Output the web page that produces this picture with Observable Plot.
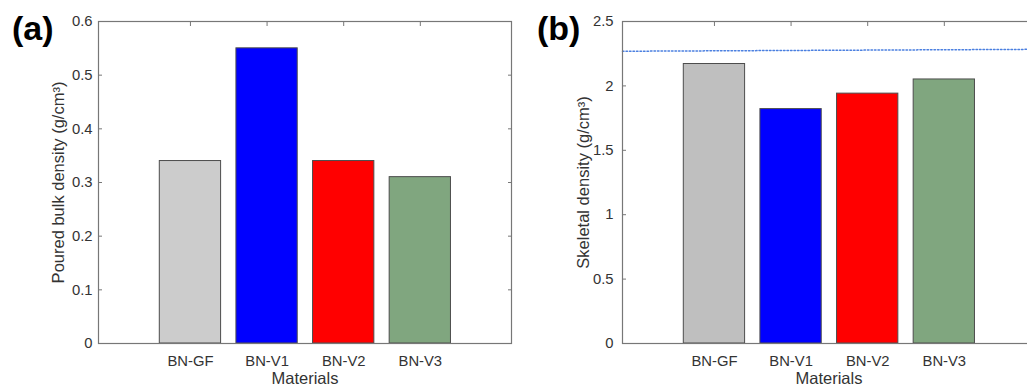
<!DOCTYPE html>
<html><head><meta charset="utf-8">
<script src="https://cdn.jsdelivr.net/npm/d3@7"></script>
<script src="https://cdn.jsdelivr.net/npm/@observablehq/plot@0.6"></script>
<style>
html,body{margin:0;padding:0;overflow:hidden;background:#fff;width:1027px;height:387px;}
#wrap{position:relative;width:1027px;height:387px;overflow:hidden;}
.panel{position:absolute;top:0;width:520px;height:387px;}
.panel svg{max-width:none !important;}
.tag{position:absolute;font:bold 34px "Liberation Sans",Arial,sans-serif;color:#000;line-height:1;white-space:nowrap;}
</style></head><body>
<div id="wrap">
<div id="pa" class="panel" style="left:0"></div>
<div id="pb" class="panel" style="left:520px"></div>
<div class="tag" style="left:12px;top:11px">(a)</div>
<div class="tag" style="left:537px;top:11px">(b)</div>
</div>
<script>
const categories = ["BN-GF", "BN-V1", "BN-V2", "BN-V3"];
const pouredBulk = [0.34, 0.55, 0.34, 0.31];
const skeletal = [2.17, 1.82, 1.94, 2.05];
const colorsA = ["#cccccc", "#0000ff", "#ff0000", "#80a67f"];
const colorsB = ["#bfbfbf", "#0000ff", "#ff0000", "#80a67f"];
const yTicksA = [0, 0.1, 0.2, 0.3, 0.4, 0.5, 0.6];
const yTickLabelsA = ["0", "0.1", "0.2", "0.3", "0.4", "0.5", "0.6"];
const yTicksB = [0, 0.5, 1, 1.5, 2, 2.5];
const yTickLabelsB = ["0", "0.5", "1", "1.5", "2", "2.5"];
const xDomain = [-0.2, 5.19];
const refLineX = [-0.2, 5.19];
const refLineY = [2.269, 2.284];
const xLabel = "Materials";
const yLabelA = "Poured bulk density (g/cm³)";
const yLabelB = "Skeletal density (g/cm³)";

function panel({values, colors, yDomain, yTicks, yTickLabels, ylabel, marginLeft, marginRight, tickPad, ylabelDx, extra = []}) {
  const xPos = categories.map((c, i) => i + 1);
  const data = categories.map((c, i) => ({c, pos: xPos[i], v: values[i], color: colors[i]}));
  const fmtY = d => yTickLabels[yTicks.indexOf(d)];
  const fmtX = d => categories[xPos.indexOf(d)];
  const axisStroke = "#777777";
  const font = "'Liberation Sans', Arial, sans-serif";
  return Plot.plot({
    width: 520, height: 387,
    marginTop: 21, marginBottom: 44, marginLeft, marginRight,
    style: {fontFamily: font, fontSize: "15px", color: "#262626", background: "transparent", overflow: "visible", maxWidth: "none"},
    x: {type: "linear", domain: xDomain},
    y: {domain: yDomain},
    marks: [
      Plot.axisX(xPos, {anchor: "top", tickSize: -4, tickFormat: () => "", stroke: axisStroke, label: null}),
      Plot.axisY(yTicks, {anchor: "left", tickSize: -4, tickFormat: () => "", stroke: axisStroke, label: null}),
      Plot.axisY(yTicks, {anchor: "right", tickSize: -4, tickFormat: () => "", stroke: axisStroke, label: null}),
      Plot.rectY(data, {x1: d => d.pos - 0.4, x2: d => d.pos + 0.4, y1: 0, y2: "v", fill: "color", stroke: "#4d4d4d", strokeWidth: 1}),
      ...extra,
      Plot.frame({stroke: axisStroke, strokeWidth: 1.2}),
      Plot.axisY(yTicks, {anchor: "left", tickSize: 0, tickPadding: tickPad, tickFormat: fmtY, fill: "#333333", fontSize: 14.8, label: null}),
      Plot.axisX(xPos, {anchor: "bottom", tickSize: 0, tickPadding: 12, tickFormat: fmtX, fill: "#333333", fontSize: 14.8, label: null}),
      Plot.text([xLabel], {frameAnchor: "bottom", dy: 29, lineAnchor: "top", fontSize: 16.5, fill: "#333333"}),
      Plot.text([ylabel], {frameAnchor: "left", dx: ylabelDx, rotate: -90, textAnchor: "middle", lineAnchor: "middle", fontSize: 16.5, fill: "#333333"})
    ]
  });
}

document.getElementById("pa").append(panel({
  values: pouredBulk, colors: colorsA, yDomain: [0, 0.6], yTicks: yTicksA, yTickLabels: yTickLabelsA,
  ylabel: yLabelA, marginLeft: 98, marginRight: 9, tickPad: 6, ylabelDx: -40
}));

const refData = refLineX.map((x, i) => ({x, y: refLineY[i]}));
document.getElementById("pb").append(panel({
  values: skeletal, colors: colorsB, yDomain: [0, 2.5], yTicks: yTicksB, yTickLabels: yTickLabelsB,
  ylabel: yLabelB, marginLeft: 102, marginRight: 5, tickPad: 9, ylabelDx: -39,
  extra: [Plot.line(refData, {x: "x", y: "y", stroke: "#4a7fe0", strokeWidth: 1.5, strokeDasharray: "1.5,2"})]
}));
</script>
</body></html>
